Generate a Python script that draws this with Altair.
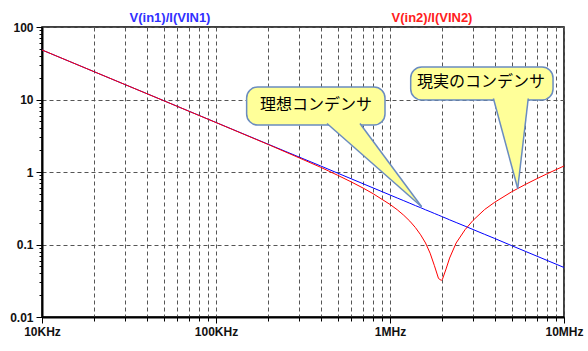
import math
import altair as alt
import pandas as pd

# ---- data ----
freq = [10e3, 20e3, 50e3, 100e3, 200e3, 300e3, 400e3, 500e3, 600e3, 700e3, 800e3,
        1.0e6, 1.1e6, 1.2e6, 1.3e6, 1.4e6, 1.5e6, 1.6e6, 1.7e6, 1.8e6, 1.9e6, 1.97e6,
        2.0e6, 2.1e6, 2.2e6, 2.4e6, 2.7e6, 3.0e6, 3.5e6, 4.0e6, 5.0e6, 6.0e6, 7.0e6,
        8.0e6, 10e6]
z_ideal = [48.2, 24.1, 9.65, 4.82, 2.41, 1.61, 1.21, 0.965, 0.804, 0.689, 0.603,
           0.482, 0.438, 0.402, 0.371, 0.344, 0.322, 0.301, 0.284, 0.268, 0.254, 0.245,
           0.241, 0.230, 0.219, 0.201, 0.179, 0.161, 0.138, 0.121, 0.0965, 0.0804, 0.0689,
           0.0603, 0.0482]
z_real = [48.2, 24.1, 9.64, 4.81, 2.39, 1.57, 1.16, 0.902, 0.728, 0.601, 0.502,
          0.357, 0.302, 0.253, 0.210, 0.171, 0.136, 0.105, 0.076, 0.051, 0.034, 0.032,
          0.033, 0.046, 0.065, 0.105, 0.160, 0.215, 0.304, 0.383, 0.533, 0.674, 0.811,
          0.945, 1.21]

series_names = ["V(in1)/I(VIN1)", "V(in2)/I(VIN2)"]
series_colors = ["#0000FF", "#FF0000"]
title_colors = ["#3030FF", "#FF2020"]

x_ticks = [1e4, 2e4, 3e4, 4e4, 5e4, 6e4, 7e4, 8e4, 9e4,
           1e5, 2e5, 3e5, 4e5, 5e5, 6e5, 7e5, 8e5, 9e5,
           1e6, 2e6, 3e6, 4e6, 5e6, 6e6, 7e6, 8e6, 9e6, 1e7]
x_major = [1e4, 1e5, 1e6, 1e7]
x_major_labels = ["10KHz", "100KHz", "1MHz", "10MHz"]
y_ticks = [0.01, 0.02, 0.03, 0.04, 0.05, 0.06, 0.07, 0.08, 0.09,
           0.1, 0.2, 0.3, 0.4, 0.5, 0.6, 0.7, 0.8, 0.9,
           1, 2, 3, 4, 5, 6, 7, 8, 9,
           10, 20, 30, 40, 50, 60, 70, 80, 90, 100]
y_major = [0.01, 0.1, 1, 10, 100]
y_major_labels = ["0.01", "0.1", "1", "10", "100"]

# callouts (data coordinates: frequency, impedance)
callout_text = ["理想コンデンサ", "現実のコンデンサ"]
box_x0 = [150e3, 1.315e6]
box_x1 = [936e3, 8.65e6]
box_ytop = [14.9, 28.1]
box_ybot = [4.45, 9.84]
text_x = [375e3, 3.33e6]
text_y = [8.4, 17.4]
# tails: A (base left), B (base right), T (tip)
tail_ax = [434.5e3, 3.93e6]
tail_bx = [672e3, 6.23e6]
tail_base_y = [4.67, 10.32]
tail_tx = [1.52e6, 5.42e6]
tail_ty = [0.332, 0.592]

# ---- build tables ----
df = pd.DataFrame({"f": freq, "ideal": z_ideal, "real": z_real})

MAJ = "abs(log(datum.value)/LN10 - round(log(datum.value)/LN10)) < 0.001"


def label_expr(vals, labs):
    expr = "''"
    for v, l in zip(vals, labs):
        expr = f"(abs(log(datum.value)/LN10 - ({math.log10(v)})) < 0.001 ? '{l}' : {expr})"
    return expr


FONT = "Liberation Sans"
xs = alt.Scale(type="log", domain=[1e4, 1e7], nice=False)
ys = alt.Scale(type="log", domain=[0.01, 100], nice=False)

xaxis = alt.Axis(values=x_ticks, labelExpr=label_expr(x_major, x_major_labels),
                 grid=True, gridColor="#555555", gridDash=[4, 3], gridWidth=1,
                 tickColor="black", tickSize={"condition": {"test": MAJ, "value": 6}, "value": 4},
                 domainColor="black", domainWidth=2, labelFont=FONT, labelFontSize=12,
                 labelFontWeight="bold", labelColor="#111111", labelPadding=3,
                 labelOverlap=False, labelFlush=False, labelBound=False, title=None)
yaxis = alt.Axis(values=y_ticks, labelExpr=label_expr(y_major, y_major_labels),
                 grid=True, gridColor="#555555", gridDash=[4, 3], gridWidth=1,
                 gridOpacity={"condition": {"test": MAJ, "value": 1}, "value": 0},
                 tickColor="black", tickSize={"condition": {"test": MAJ, "value": 6}, "value": 3},
                 domainColor="black", domainWidth=2, labelFont=FONT, labelFontSize=12,
                 labelFontWeight="bold", labelColor="#111111", labelPadding=3,
                 labelOverlap=False, labelFlush=False, labelBound=False, title=None)


def X(field):
    return alt.X(field, type="quantitative", scale=xs, axis=xaxis)


def Y(field):
    return alt.Y(field, type="quantitative", scale=ys, axis=yaxis)


blue = alt.Chart(df).mark_line(color=series_colors[0], strokeWidth=1).encode(x=X("f"), y=Y("ideal"))
red = alt.Chart(df).mark_line(color=series_colors[1], strokeWidth=1).encode(x=X("f"), y=Y("real"))

FILL = "#FFFF99"
EDGE = "#6A8CC0"

boxes = pd.DataFrame({"x0": box_x0, "x1": box_x1, "yt": box_ytop, "yb": box_ybot,
                      "tx": text_x, "ty": text_y, "t": callout_text})

tail_rows = []
edge_rows = []
for i in range(2):
    ax, bx, by, tx, ty = tail_ax[i], tail_bx[i], tail_base_y[i], tail_tx[i], tail_ty[i]
    if tx > bx:
        # tip to the right of the base: the lower edge is A->T, known at B.x
        lx = lambda px: math.log10(px)
        frac = (lx(bx) - lx(ax)) / (lx(tx) - lx(ax))
        ybB = 10 ** (math.log10(by) + frac * (math.log10(ty) - math.log10(by)))
        tail_rows += [{"id": i, "x": ax, "top": by, "bot": by},
                      {"id": i, "x": bx, "top": by, "bot": ybB},
                      {"id": i, "x": tx, "top": ty, "bot": ty}]
    else:
        tail_rows += [{"id": i, "x": ax, "top": by, "bot": by},
                      {"id": i, "x": tx, "top": by, "bot": ty},
                      {"id": i, "x": bx, "top": by, "bot": by}]
    edge_rows += [{"e": f"{i}a", "o": 0, "x": ax, "y": by}, {"e": f"{i}a", "o": 1, "x": tx, "y": ty},
                  {"e": f"{i}b", "o": 0, "x": bx, "y": by}, {"e": f"{i}b", "o": 1, "x": tx, "y": ty}]
tails = pd.DataFrame(tail_rows)
edges = pd.DataFrame(edge_rows)

rects = alt.Chart(boxes).mark_rect(fill=FILL, stroke=EDGE, strokeWidth=1.5, cornerRadius=11).encode(
    x=X("x0"), x2="x1", y=Y("yt"), y2="yb")
tail_fill = alt.Chart(tails).mark_area(fill=FILL, opacity=1).encode(
    x=X("x"), y=Y("top"), y2="bot", detail="id:N")
tail_edges = alt.Chart(edges).mark_line(color=EDGE, strokeWidth=1.5).encode(
    x=X("x"), y=Y("y"), detail="e:N", order="o:Q")
texts = alt.Chart(boxes).mark_text(font="Noto Sans CJK JP", fontSize=16, color="black",
                                   align="center", baseline="middle").encode(
    x=X("tx"), y=Y("ty"), text="t:N")

titles_df = pd.DataFrame({"name": series_names})
title1 = alt.Chart(titles_df.iloc[[0]]).mark_text(font=FONT, fontSize=13, fontWeight="bold",
                                                  color=title_colors[0], align="center",
                                                  baseline="middle").encode(
    text="name:N", x=alt.value(128), y=alt.value(-9))
title2 = alt.Chart(titles_df.iloc[[1]]).mark_text(font=FONT, fontSize=13, fontWeight="bold",
                                                  color=title_colors[1], align="center",
                                                  baseline="middle").encode(
    text="name:N", x=alt.value(390), y=alt.value(-9))

chart = alt.layer(blue, red, rects, tail_fill, tail_edges, texts, title1, title2).properties(
    width=522, height=290,
    padding={"left": 42, "top": 27, "right": 24, "bottom": 34},
    autosize=alt.AutoSizeParams(type="none"),
    background="white",
).configure_view(stroke="black", strokeWidth=1.5)

chart.save("out.html", embed_options={"renderer": "svg", "actions": False})
